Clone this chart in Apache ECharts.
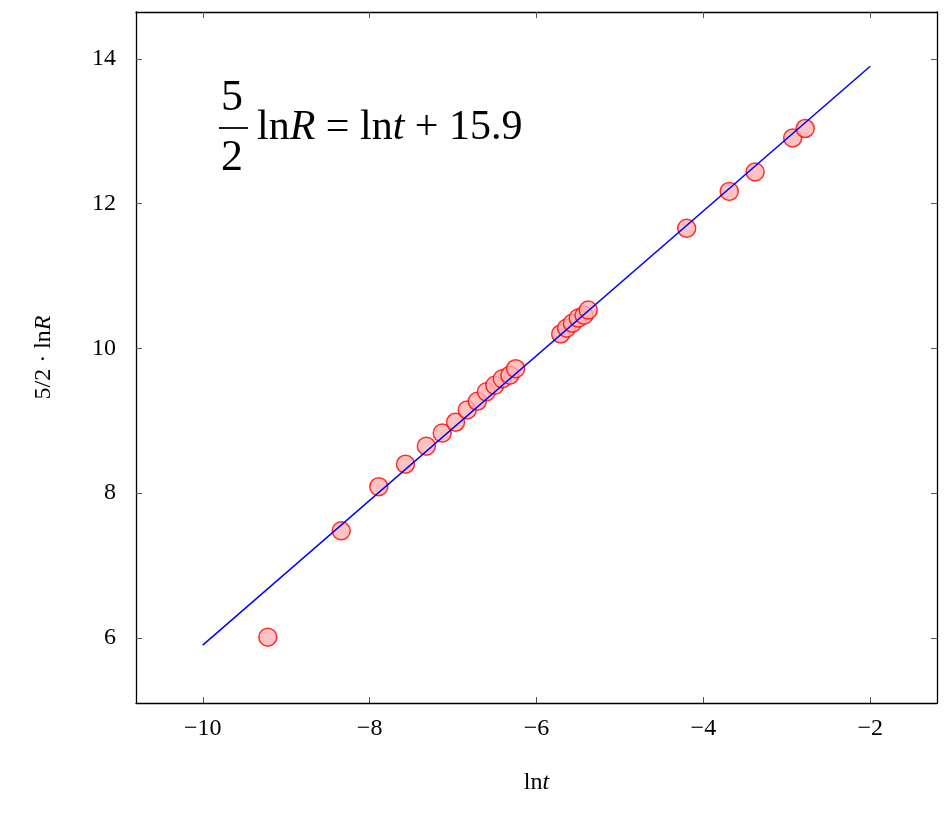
<!DOCTYPE html>
<html>
<head>
<meta charset="utf-8">
<script src="https://cdn.jsdelivr.net/npm/echarts@6/dist/echarts.min.js"></script>
<style>
  html, body { margin: 0; padding: 0; background: #fff; }
  #chart { width: 948px; height: 815px; }
</style>
</head>
<body>
<div id="chart"></div>
<script>
// measured points (ln t, 5/2 ln R)
var lnT = [-9.22, -8.34, -7.89, -7.57, -7.32, -7.13, -6.97, -6.83, -6.71, -6.60, -6.50, -6.41, -6.32, -6.25,
           -5.71, -5.64, -5.57, -5.50, -5.43, -5.38, -4.20, -3.69, -3.38, -2.93, -2.78];
var lnR52 = [6.01, 7.48, 8.09, 8.40, 8.65, 8.83, 8.98, 9.15, 9.27, 9.40, 9.49, 9.58, 9.63, 9.72,
             10.20, 10.28, 10.35, 10.42, 10.46, 10.53, 11.66, 12.17, 12.44, 12.91, 13.04];
// fitted line endpoints
var fitX = [-10, -2];
var fitY = [5.9, 13.9];
var xTicks = [-10, -8, -6, -4, -2];
var yTicks = [6, 8, 10, 12, 14];

var font = '"Liberation Serif", "DejaVu Serif", serif';
var chart = echarts.init(document.getElementById('chart'));

function axisBase(pos, ticks, showLabel) {
    var horiz = pos === 'bottom' || pos === 'top';
    return {
        type: 'value',
        position: pos,
        min: horiz ? -10.8 : 5.1,
        max: horiz ? -1.2 : 14.65,
        axisLine: { show: true, onZero: false, lineStyle: { color: '#000', width: 1.3 } },
        axisTick: { show: true, inside: true, length: 6, customValues: ticks, lineStyle: { color: '#555' } },
        axisLabel: { show: showLabel, customValues: ticks, fontFamily: font, fontSize: 24, color: '#000', margin: horiz ? 14 : 20,
                     formatter: function (v) { return String(v).replace('-', '\u2212'); } },
        splitLine: { show: false }
    };
}

var nameRich = { i: { fontStyle: 'italic', fontFamily: font, fontSize: 24, color: '#000' } };
var xA = axisBase('bottom', xTicks, true);
xA.name = 'ln{i|t}'; xA.nameLocation = 'middle'; xA.nameGap = 68;
xA.nameTextStyle = { fontFamily: font, fontSize: 24, color: '#000', rich: nameRich };
var yA = axisBase('left', yTicks, true);
yA.name = '5/2 · ln{i|R}'; yA.nameLocation = 'middle'; yA.nameGap = 80;
yA.nameTextStyle = { fontFamily: font, fontSize: 24, color: '#000', rich: nameRich };

chart.setOption({
    animation: false,
    grid: { left: 136, top: 12, width: 801, height: 691 },
    xAxis: [xA, axisBase('top', xTicks, false)],
    yAxis: [yA, axisBase('right', yTicks, false)],
    series: [
        {
            type: 'line',
            data: fitX.map(function (x, i) { return [x, fitY[i]]; }),
            showSymbol: false,
            lineStyle: { color: '#0000ff', width: 1.5 }
        },
        {
            type: 'scatter',
            data: lnT.map(function (x, i) { return [x, lnR52[i]]; }),
            symbolSize: 18,
            itemStyle: { color: '#ffb3b3', borderColor: '#ff0000', borderWidth: 1.5 }
        }
    ],
    graphic: [
        { type: 'text', left: 221, top: 76, style: { text: '5', font: '44px ' + font, fill: '#000' } },
        { type: 'line', shape: { x1: 219, y1: 128, x2: 248, y2: 128 }, style: { stroke: '#000', lineWidth: 1.8 } },
        { type: 'text', left: 221, top: 136, style: { text: '2', font: '44px ' + font, fill: '#000' } },
        { type: 'text', left: 257, top: 107, style: { text: 'ln{i|R} = ln{i|t} + 15.9', font: '42px ' + font, fill: '#000',
            rich: { i: { fontStyle: 'italic', fontFamily: font, fontSize: 42 } } } }
    ]
});
</script>
</body>
</html>
